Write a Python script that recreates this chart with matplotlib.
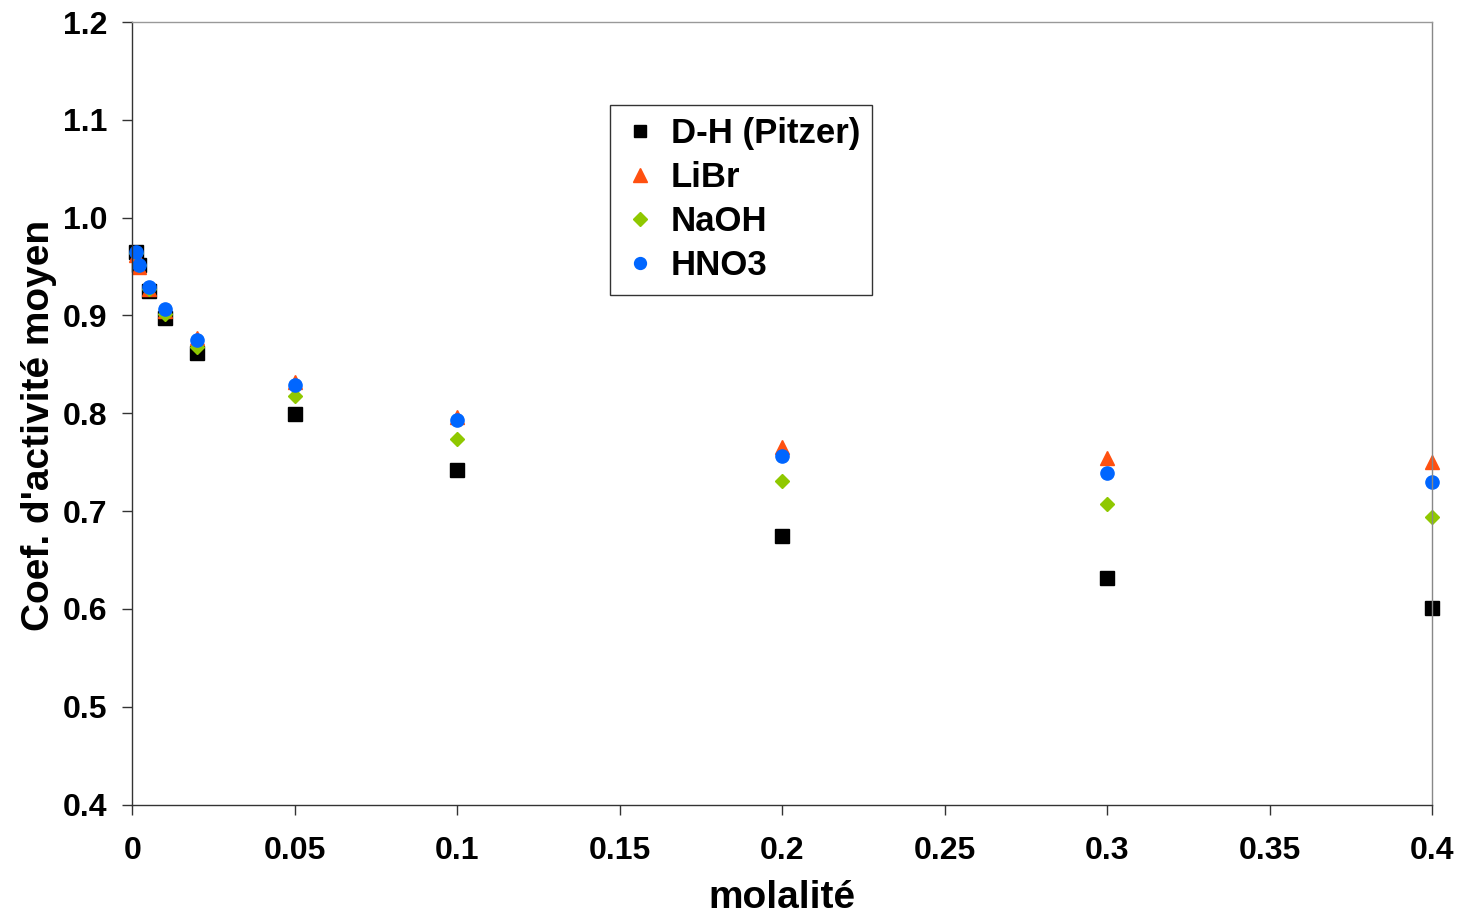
import matplotlib
matplotlib.use("Agg")
import matplotlib.pyplot as plt
from matplotlib.ticker import FuncFormatter, MultipleLocator

plt.rcParams['font.family'] = ['Liberation Sans', 'DejaVu Sans']
plt.rcParams['font.weight'] = 'bold'

# molality values
molalite = [0.001, 0.002, 0.005, 0.01, 0.02, 0.05, 0.1, 0.2, 0.3, 0.4]

# mean activity coefficients
dh_pitzer = [0.965, 0.952, 0.925, 0.897, 0.862, 0.799, 0.742, 0.675, 0.632, 0.601]
libr = [0.962, 0.950, 0.927, 0.905, 0.877, 0.832, 0.796, 0.766, 0.754, 0.750]
naoh = [0.964, 0.952, 0.927, 0.902, 0.868, 0.818, 0.774, 0.731, 0.707, 0.694]
hno3 = [0.965, 0.952, 0.929, 0.907, 0.875, 0.829, 0.793, 0.756, 0.739, 0.730]

fig = plt.figure(figsize=(14.59, 9.18), dpi=100)
ax = fig.add_axes([0.0908, 0.1236, 0.8907, 0.8524])

ax.plot(molalite, dh_pitzer, 's', color='black', markersize=9.5, label='D-H (Pitzer)', clip_on=False)
ax.plot(molalite, libr, '^', color='#ff5010', markersize=10.5, label='LiBr', clip_on=False)
ax.plot(molalite, naoh, 'D', color='#8fc800', markersize=7.5, label='NaOH', clip_on=False)
ax.plot(molalite, hno3, 'o', color='#0066ff', markersize=9.5, label='HNO3', clip_on=False)

ax.set_xlim(0, 0.4)
ax.set_ylim(0.4, 1.2)
ax.xaxis.set_major_locator(MultipleLocator(0.05))
ax.yaxis.set_major_locator(MultipleLocator(0.1))
ax.xaxis.set_major_formatter(FuncFormatter(lambda v, p: f'{v:g}'))
ax.yaxis.set_major_formatter(FuncFormatter(lambda v, p: f'{v:.1f}'))

ax.tick_params(axis='x', direction='out', length=7, width=1, color='#333333',
               labelsize=23, pad=16)
ax.tick_params(axis='y', direction='out', length=7, width=1, color='#333333',
               labelsize=23, pad=11)
for lab in ax.get_xticklabels() + ax.get_yticklabels():
    lab.set_fontweight('bold')

ax.spines['left'].set_color('#333333')
ax.spines['bottom'].set_color('#333333')
ax.spines['top'].set_color('#999999')
ax.spines['right'].set_color('#888888')
for s in ax.spines.values():
    s.set_linewidth(1)

ax.set_xlabel('molalité', fontsize=28, fontweight='bold', labelpad=10)
ax.set_ylabel("Coef. d'activité moyen", fontsize=28, fontweight='bold')
ax.yaxis.set_label_coords(-0.058, 0.485)

leg = ax.legend(loc='upper left', bbox_to_anchor=(610 / 1459, 1 - 105 / 918),
                bbox_transform=fig.transFigure, fontsize=25, frameon=True,
                fancybox=False, shadow=False, borderaxespad=0, borderpad=0.35,
                handlelength=1.0, handletextpad=0.4, labelspacing=0.32,
                markerscale=0.9)
leg.get_frame().set_edgecolor('black')
leg.get_frame().set_linewidth(1)
for t in leg.get_texts():
    t.set_fontweight('bold')

fig.savefig('out.png', dpi=100, facecolor='white')
